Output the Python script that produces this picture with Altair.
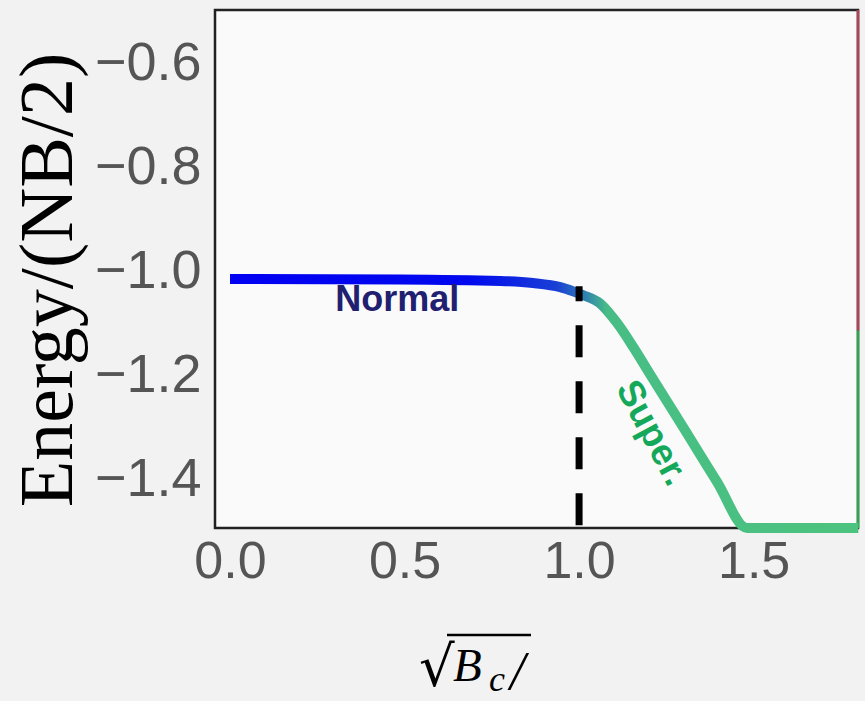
import altair as alt
import pandas as pd

# Ground-state energy vs sqrt(B_c): flat "Normal" branch, then the "Super." branch
b_vals = [0.0, 0.487, 0.774, 0.868, 0.946, 0.983, 1.011, 1.060, 1.109, 1.155,
          1.203, 1.298, 1.395, 1.481, 1.60, 1.80]
e_vals = [-1.015, -1.016, -1.019, -1.023, -1.031, -1.039, -1.046, -1.062, -1.100, -1.146,
          -1.198, -1.300, -1.405, -1.498, -1.63, -1.85]

# Transition marker
crit_b = [1.0]
crit_e_top = [-1.029]
crit_e_bottom = [-1.494]

# Phase labels
phase_names = ["Normal", "Super."]
phase_b = [0.479, 1.208]
phase_e = [-1.056, -1.312]

# Branches that leave the window along its right edge
edge_b = [1.799, 1.799]
edge_e_top = [-0.498, -1.114]
edge_e_bottom = [-1.114, -1.494]
edge_colors = ["#c8506a", "#3cc060"]

x_ticks = [0.0, 0.5, 1.0, 1.5]
y_ticks = [-1.4, -1.2, -1.0, -0.8, -0.6]

X_DOM = [-0.043, 1.799]
Y_DOM = [-1.494, -0.498]

curve = pd.DataFrame({"b": b_vals, "e": e_vals})
crit = pd.DataFrame({"b": crit_b, "e": crit_e_top, "e2": crit_e_bottom})
edges = pd.DataFrame({"b": edge_b, "e": edge_e_top, "e2": edge_e_bottom, "c": edge_colors})

x_enc = alt.X("b:Q", scale=alt.Scale(domain=X_DOM, nice=False, zero=False),
              axis=alt.Axis(values=x_ticks, format=".1f", title=None, grid=False,
                            ticks=False, domain=False, labelFontSize=52,
                            labelFont="Liberation Sans", labelColor="#555555",
                            labelPadding=8))
y_enc = alt.Y("e:Q", scale=alt.Scale(domain=Y_DOM, nice=False, zero=False, clamp=True),
              axis=alt.Axis(values=y_ticks, format=".1f", title=None, grid=False,
                            ticks=False, domain=False, labelFontSize=54,
                            labelFont="Liberation Sans", labelColor="#555555",
                            labelPadding=14))

gradient = alt.Gradient(
    gradient="linear",
    stops=[
        alt.GradientStop(color="#0000f2", offset=0.0),
        alt.GradientStop(color="#0008ee", offset=0.38),
        alt.GradientStop(color="#1a40d6", offset=0.52),
        alt.GradientStop(color="#2f80b2", offset=0.565),
        alt.GradientStop(color="#47bd85", offset=0.60),
        alt.GradientStop(color="#4cc47e", offset=1.0),
    ],
    x1=0, x2=1, y1=0, y2=0,
)

edge_rules = alt.Chart(edges).mark_rule(strokeWidth=3, opacity=0.8).encode(
    x="b:Q", y="e:Q", y2="e2:Q", color=alt.Color("c:N", scale=None))

line = alt.Chart(curve).mark_line(
    stroke=gradient, strokeWidth=10, interpolate="monotone", strokeCap="butt"
).encode(x=x_enc, y=y_enc, order="b:Q")

dashed = alt.Chart(crit).mark_rule(
    color="black", strokeWidth=7, strokeDash=[32, 24], strokeDashOffset=17
).encode(x="b:Q", y="e:Q", y2="e2:Q")

normal_lbl = alt.Chart(pd.DataFrame({"b": [phase_b[0]], "e": [phase_e[0]],
                                     "t": [phase_names[0]]})).mark_text(
    font="Liberation Sans", fontWeight="bold", fontSize=36, color="#1f2070",
    align="center", baseline="middle"
).encode(x="b:Q", y="e:Q", text="t:N")

super_lbl = alt.Chart(pd.DataFrame({"b": [phase_b[1]], "e": [phase_e[1]],
                                    "t": [phase_names[1]]})).mark_text(
    font="Liberation Sans", fontWeight="bold", fontSize=37, color="#14a85a",
    align="center", baseline="middle", angle=62
).encode(x="b:Q", y="e:Q", text="t:N")

one = pd.DataFrame({"k": [0]})

# Axis titles drawn as text so the radical, subscript and overline can be composed
y_title = alt.Chart(one).mark_text(
    font="Liberation Serif", fontSize=76, color="black", angle=270,
    align="center", baseline="alphabetic"
).encode(x=alt.value(-143), y=alt.value(270), text=alt.value("Energy/(NB/2)"))

sqrt_sign = alt.Chart(one).mark_text(
    font="DejaVu Serif", fontSize=56, color="black", align="left", baseline="alphabetic"
).encode(x=alt.value(204), y=alt.value(676), text=alt.value("√"))

overline = alt.Chart(one).mark_rule(color="black", strokeWidth=2.5).encode(
    x=alt.value(232), x2=alt.value(316), y=alt.value(625))

b_letter = alt.Chart(one).mark_text(
    font="Liberation Serif", fontStyle="italic", fontSize=47, color="black",
    align="left", baseline="alphabetic"
).encode(x=alt.value(238), y=alt.value(671), text=alt.value("B"))

c_letter = alt.Chart(one).mark_text(
    font="Liberation Serif", fontStyle="italic", fontSize=36, color="black",
    align="left", baseline="alphabetic"
).encode(x=alt.value(274), y=alt.value(681), text=alt.value("c"))

slash = alt.Chart(one).mark_text(
    font="Liberation Serif", fontStyle="italic", fontSize=54, color="black",
    align="left", baseline="alphabetic"
).encode(x=alt.value(295), y=alt.value(679), text=alt.value("/"))

chart = alt.layer(
    edge_rules, line, dashed, normal_lbl, super_lbl,
    y_title, sqrt_sign, overline, b_letter, c_letter, slash
).properties(
    width=643, height=518,
    autosize=alt.AutoSizeParams(type="none"),
    padding={"left": 215, "top": 10, "right": 7, "bottom": 173},
    background="#f2f2f2",
).configure_view(
    stroke="#222222", strokeWidth=2.5, fill="#fafafa"
)

chart.save("out.html", embed_options={"renderer": "svg", "actions": False})
